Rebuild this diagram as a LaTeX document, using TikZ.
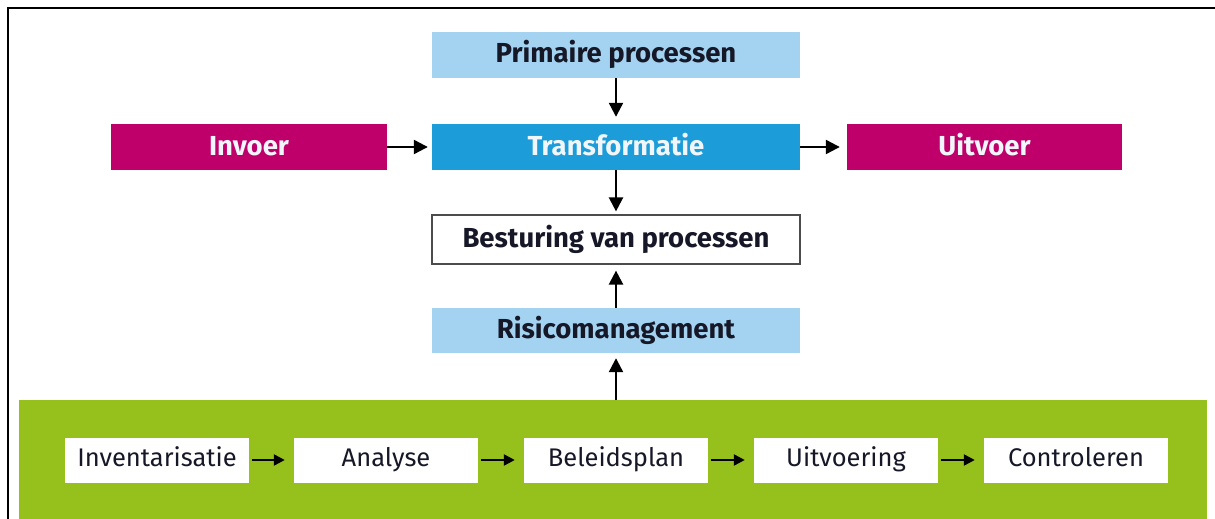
\documentclass[tikz,border=0pt]{standalone}
\usepackage{fontspec}
\setmainfont{Fira Sans}
\usetikzlibrary{arrows.meta}

\definecolor{lightblu}{RGB}{163,211,241}
\definecolor{midblu}{RGB}{28,156,216}
\definecolor{magentabox}{RGB}{192,0,106}
\definecolor{greenband}{RGB}{150,193,28}
\definecolor{darktext}{RGB}{22,24,40}
\definecolor{paleink}{RGB}{240,246,250}

\tikzset{
  topbox/.style={rectangle, inner sep=0pt, minimum width=368pt, minimum height=46pt,
    text height=22pt, text depth=6pt,
    font=\fontsize{27.5}{30}\selectfont\bfseries},
  lightbox/.style={topbox, fill=lightblu, text=darktext},
  flowbox/.style={topbox, fill=midblu, text=paleink},
  sidebox/.style={topbox, fill=magentabox, text=paleink, minimum width=276pt},
  ctrlbox/.style={topbox, fill=white, draw=black!70, line width=1.2pt, text=darktext, minimum height=49pt},
  stagebox/.style={rectangle, inner sep=0pt, fill=white, minimum width=184pt, minimum height=45pt,
    text height=19pt, text depth=6pt,
    text=darktext, font=\fontsize{25.5}{28}\selectfont},
  flow/.style={line width=2.3pt, -{Triangle[length=14pt,width=14pt]}},
  stageflow/.style={line width=2.3pt, -{Triangle[length=11pt,width=11pt]}, shorten <=3pt, shorten >=9pt},
}

\begin{document}
\begin{tikzpicture}[x=1pt,y=-1pt]
  \useasboundingbox (0,0) rectangle (1215,519);
  \fill[white] (0,0) rectangle (1215,519);

  % frame lines along the top and left edge
  \draw[line width=2.5pt] (8,519) -- (8,8) -- (1215,8);

  % green band carrying the risk management cycle
  \node[fill=greenband, inner sep=0pt, minimum width=1188pt, minimum height=119pt, anchor=north west] (band) at (19,400) {};

  % upper process column
  \node[lightbox] (prim) at (616,55) {Primaire processen};
  \node[flowbox] (trans) at (616,147) {Transformatie};
  \node[sidebox] (invoer) at (249,147) {Invoer};
  \node[sidebox, minimum width=275pt] (uitvoer) at (984.5,147) {Uitvoer};
  \node[ctrlbox] (best) at (616,239.5) {Besturing van processen};
  \node[lightbox, minimum height=45pt] (risico) at (616,330.5) {Risicomanagement};

  % cycle stages inside the band
  \node[stagebox] (s1) at (157,460) {Inventarisatie};
  \node[stagebox] (s2) at (386,460) {Analyse};
  \node[stagebox] (s3) at (616,460) {Beleidsplan};
  \node[stagebox] (s4) at (846,460) {Uitvoering};
  \node[stagebox] (s5) at (1076,460) {Controleren};

  \coordinate (bandtop) at (band.north -| risico.south);

  % connectors
  \draw[flow, shorten >=7pt] (prim) -- (trans);
  \draw[flow, shorten >=4pt] (invoer) -- (trans);
  \draw[flow, shorten >=7pt] (trans) -- (uitvoer);
  \draw[flow, shorten >=3pt] (trans) -- (best);
  \draw[flow, shorten >=6pt] (risico) -- (best);
  \draw[flow, shorten >=5pt] (bandtop) -- (risico.south);

  \draw[stageflow] (s1) -- (s2);
  \draw[stageflow] (s2) -- (s3);
  \draw[stageflow] (s3) -- (s4);
  \draw[stageflow] (s4) -- (s5);
\end{tikzpicture}
\end{document}
